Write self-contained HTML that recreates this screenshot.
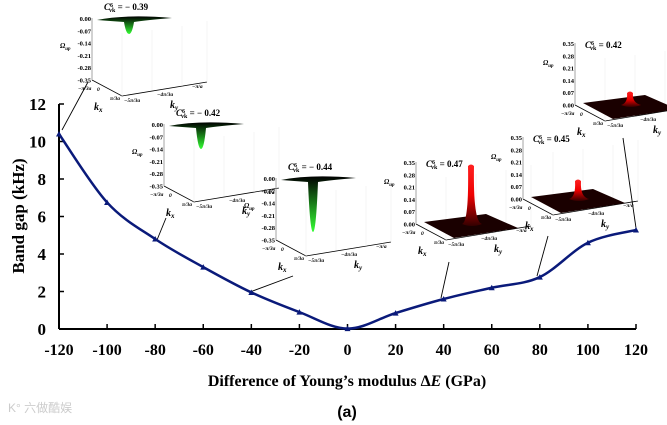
<!DOCTYPE html>
<html><head><meta charset="utf-8"><style>
body{margin:0;background:#fff;}
svg{display:block;font-family:"Liberation Serif",serif;}
</style></head><body>
<svg id="chart" width="667" height="425" viewBox="0 0 667 425" xmlns="http://www.w3.org/2000/svg">
<defs>
<linearGradient id="gneg" x1="0" y1="0" x2="0" y2="1"><stop offset="0" stop-color="#000"/><stop offset="1" stop-color="#3f3"/></linearGradient>
<linearGradient id="gpos" x1="0" y1="1" x2="0" y2="0"><stop offset="0" stop-color="#300"/><stop offset="0.5" stop-color="#e00"/><stop offset="1" stop-color="#f22"/></linearGradient>
</defs>
<g id="axes"></g>
<g id="insets"></g>
<g id="series"></g>
<text transform="translate(24,216) rotate(-90)" text-anchor="middle" font-size="17" font-weight="bold">Band gap (kHz)</text>
<text x="347" y="386" text-anchor="middle" font-size="16" font-weight="bold">Difference of Young’s modulus Δ<tspan font-style="italic">E</tspan> (GPa)</text>
<text x="347" y="417" text-anchor="middle" font-size="16" font-weight="bold" font-family="Liberation Sans, sans-serif">(a)</text>
<text x="8" y="412" font-size="12" fill="#ccc" font-family="Liberation Sans, Noto Sans CJK SC, sans-serif">K° 六做酷娱</text>
</svg>
<script>
const categories=[-120,-100,-80,-60,-40,-20,0,20,40,60,80,100,120];
const bandGap=[10.4,6.75,4.8,3.3,1.95,0.9,0.02,0.85,1.6,2.2,2.77,4.6,5.28];
const xTicks=[-120,-100,-80,-60,-40,-20,0,20,40,60,80,100,120];
const yTicks=[0,2,4,6,8,10,12];
const NS="http://www.w3.org/2000/svg";
const X0=59,X1=636,Y0=329,Y1=104;
function xs(v){return X0+(v+120)/240*(X1-X0);}
function ys(v){return Y0-(v/12)*(Y0-Y1);}
function mk(t,a,p){const e=document.createElementNS(NS,t);for(const k in a)e.setAttribute(k,a[k]);(p||document.getElementById('chart')).appendChild(e);return e;}
const ax=document.getElementById('axes');
let l=mk('line',{x1:X0,y1:Y0,x2:X1,y2:Y0,stroke:'#000','stroke-width':2},ax);


l=mk('line',{x1:X0,y1:Y0,x2:X0,y2:Y1,stroke:'#000','stroke-width':2},ax);


xTicks.forEach(v=>{mk('line',{x1:xs(v),y1:Y0,x2:xs(v),y2:Y0-5,stroke:'#000','stroke-width':1.5},ax);
const t=mk('text',{x:xs(v),y:Y0+26,'text-anchor':'middle','font-size':16,'font-weight':'bold'},ax);t.textContent=v;

});
yTicks.forEach(v=>{mk('line',{x1:X0,y1:ys(v),x2:X0+5,y2:ys(v),stroke:'#000','stroke-width':1.5},ax);
const t=mk('text',{x:X0-13,y:ys(v)+6,'text-anchor':'end','font-size':17,'font-weight':'bold'},ax);t.textContent=v;

});
const P=categories.map((c,i)=>[xs(c),ys(bandGap[i])]);
let d='M'+P[0][0]+','+P[0][1];
for(let i=0;i<P.length-1;i++){const p0=P[Math.max(0,i-1)],p1=P[i],p2=P[i+1],p3=P[Math.min(P.length-1,i+2)];
d+=` C${p1[0]+(p2[0]-p0[0])/6},${p1[1]+(p2[1]-p0[1])/6} ${p2[0]-(p3[0]-p1[0])/6},${p2[1]-(p3[1]-p1[1])/6} ${p2[0]},${p2[1]}`;}
const se=document.getElementById('series');
const path=mk('path',{d:d,fill:'none',stroke:'#0a1a7a','stroke-width':2.5},se);


P.forEach(p=>{const m=mk('path',{d:`M${p[0]-3},${p[1]+2.5} L${p[0]+3},${p[1]+2.5} L${p[0]},${p[1]-3} Z`,fill:'#0a1a7a'},se);

});
const ins=document.getElementById('insets');
function inset(x,y,neg,depth,title,lead){
const g=mk('g',{transform:`translate(${x},${y})`},ins);


const labs=neg?['0.00','-0.07','-0.14','-0.21','-0.28','-0.35']:['0.35','0.28','0.21','0.14','0.07','0.00'];
labs.forEach((s,i)=>{const t=mk('text',{x:19,y:i*12.3+3,'text-anchor':'end','font-size':6.5,'font-weight':'bold'},g);t.textContent=s;});
const om=mk('text',{x:-12,y:neg?30:22,'font-size':7,'font-weight':'bold','font-style':'italic'},g);om.innerHTML='Ω<tspan font-size="5" dy="2">up</tspan>';
mk('line',{x1:20,y1:0,x2:20,y2:62,stroke:'#000','stroke-width':0.8},g);
mk('path',{d:'M20,62 L50,78 L135,64',fill:'none',stroke:'#000','stroke-width':0.8},g);
mk('path',{d:'M20,0 L20,62 M50,15 L50,78 M80,12 L80,72 M110,8 L110,68 M135,3 L135,64',fill:'none',stroke:'#eee','stroke-width':0.6},g);
const tt=mk('text',{x:neg?32:30,y:neg?-8:5,'font-size':9,'font-weight':'bold'},g);tt.innerHTML='<tspan font-style="italic">C</tspan><tspan font-size="6" dy="-3">6</tspan><tspan font-size="6" dy="5" dx="-4">vk</tspan><tspan dy="-2"> = '+title+'</tspan>';
if(neg){mk('path',{d:`M25,2 Q55,-4 100,0 Q75,2 62,4 Q60,${depth} 57,${depth} Q54,${depth} 52,4 Q38,3 25,2 Z`,fill:'url(#gneg)'},g);}
else{mk('path',{d:'M28,60 L90,52 L122,66 L58,76 Z',fill:'#1a0000'},g);
mk('path',{d:`M66,62 Q73,60 72,${62-depth} Q75,${62-depth-3} 78,${62-depth} Q77,60 86,62 Q76,66 66,62 Z`,fill:'url(#gpos)'},g);}
[['−π/3a',6,72],['0',25,73],['π/3a',38,82],['−5π/3a',52,84],['−4π/3a',85,78],['−π/a',120,70]].forEach(a=>{const t=mk('text',{x:a[1],y:a[2],'font-size':5.5,'font-weight':'bold','font-style':'italic'},g);t.textContent=a[0];});
const kx=mk('text',{x:22,y:92,'font-size':10,'font-weight':'bold','font-style':'italic'},g);kx.innerHTML='k<tspan font-size="7" dy="2">x</tspan>';
const ky=mk('text',{x:98,y:90,'font-size':10,'font-weight':'bold','font-style':'italic'},g);ky.innerHTML='k<tspan font-size="7" dy="2">y</tspan>';
const ll=mk('line',{x1:lead[0],y1:lead[1],x2:lead[2],y2:lead[3],stroke:'#000','stroke-width':0.9},ins);


}
inset(72,18,true,16,'− 0.39',[88,82,62,130]);
inset(144,124,true,25,'− 0.42',[166,218,157,240]);
inset(256,178,true,54,'− 0.44',[293,276,250,292]);
inset(396,162,false,58,'0.47',[449,262,441,298]);
inset(503,137,false,18,'0.45',[548,236,537,276]);
inset(555,43,false,12,'0.42',[623,138,636,228]);
</script>
</body></html>
